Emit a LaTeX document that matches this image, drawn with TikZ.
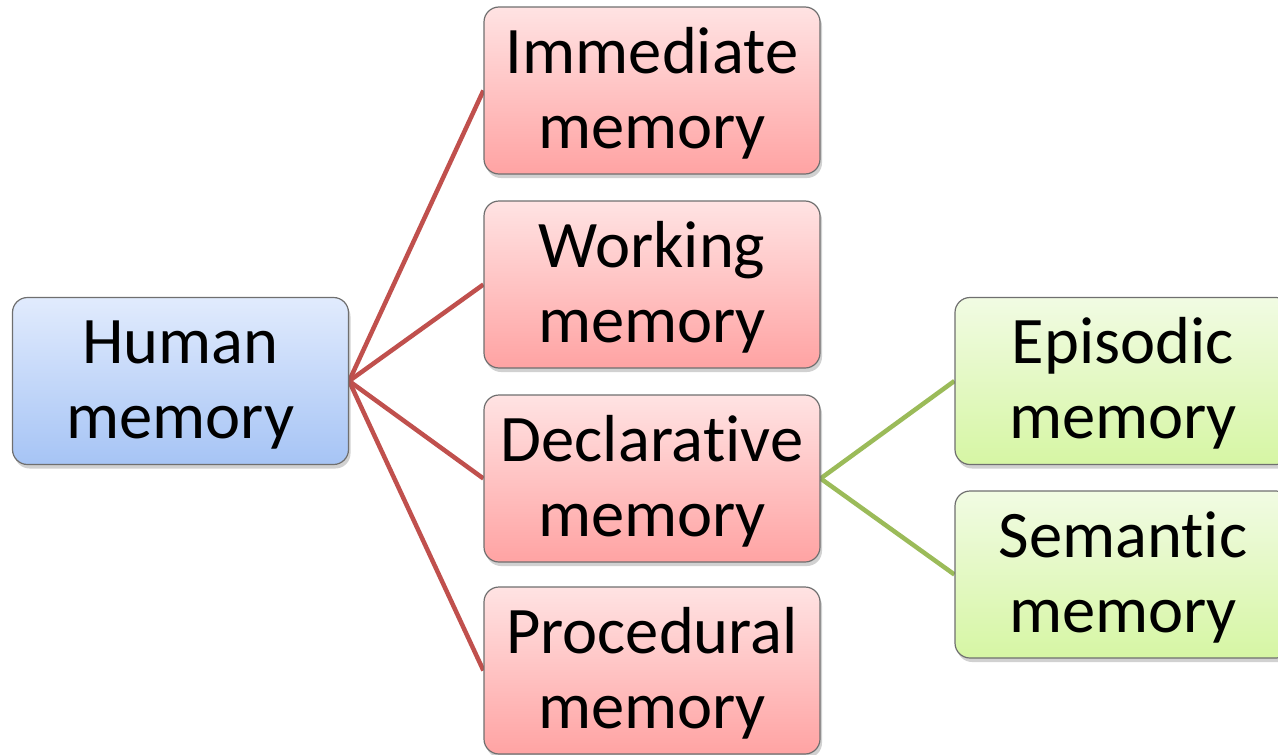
\documentclass[tikz,border=0pt]{standalone}
\usepackage{fontspec}
\setmainfont[RawFeature=-liga]{Carlito}
\usetikzlibrary{shadows,backgrounds}

\definecolor{redline}{HTML}{C0504D}
\definecolor{greenline}{HTML}{9BBB59}
\definecolor{boxedge}{HTML}{6F6F6F}
\definecolor{redtop}{HTML}{FFE3E3}
\definecolor{redbot}{HTML}{FFA3A3}
\definecolor{bluetop}{HTML}{E1EBFD}
\definecolor{bluebot}{HTML}{A6C4F5}
\definecolor{greentop}{HTML}{F1FBE3}
\definecolor{greenbot}{HTML}{D6F6A4}

% fixed first-line height so every label sits at the same level
\newcommand{\topstrut}{\rule{0pt}{51pt}}

\tikzset{
  membox/.style={draw=boxedge, line width=1.2pt, rounded corners=15pt,
    minimum width=336pt, minimum height=167pt, inner sep=0pt,
    align=center, text=black,
    font=\fontsize{66.5}{75}\selectfont,
    drop shadow={shadow xshift=2pt, shadow yshift=-4pt, opacity=0.3, fill=black!60}},
  redbox/.style={membox, top color=redtop, bottom color=redbot},
  bluebox/.style={membox, top color=bluetop, bottom color=bluebot},
  greenbox/.style={membox, top color=greentop, bottom color=greenbot},
  redlink/.style={draw=redline, line width=4.5pt},
  greenlink/.style={draw=greenline, line width=4.5pt}
}

\begin{document}
\begin{tikzpicture}[x=1pt, y=-1pt]
  \useasboundingbox (0,0) rectangle (1278,755);

  \node[bluebox]  (human) at (180.5,381)  {\topstrut Human\\memory};
  \node[redbox]   (imm)   at (652,90.5)   {\topstrut Immediate\\memory};
  \node[redbox]   (work)  at (652,284.5)  {\topstrut Working\\memory};
  \node[redbox]   (decl)  at (652,478.5)  {\topstrut Declarative\\memory};
  \node[redbox]   (proc)  at (652,670.5)  {\topstrut Procedural\\memory};
  \node[greenbox] (epi)   at (1123,381)   {\topstrut Episodic\\memory};
  \node[greenbox] (sem)   at (1123,574.5) {\topstrut Semantic\\memory};

  \begin{scope}[on background layer]
    \foreach \t in {imm,work,decl,proc}
      \draw[redlink] (human.east) -- (\t.west);
    \draw[greenlink] (decl.east) -- (epi.west);
    \draw[greenlink] (decl.east) -- (sem.west);
  \end{scope}
\end{tikzpicture}
\end{document}
